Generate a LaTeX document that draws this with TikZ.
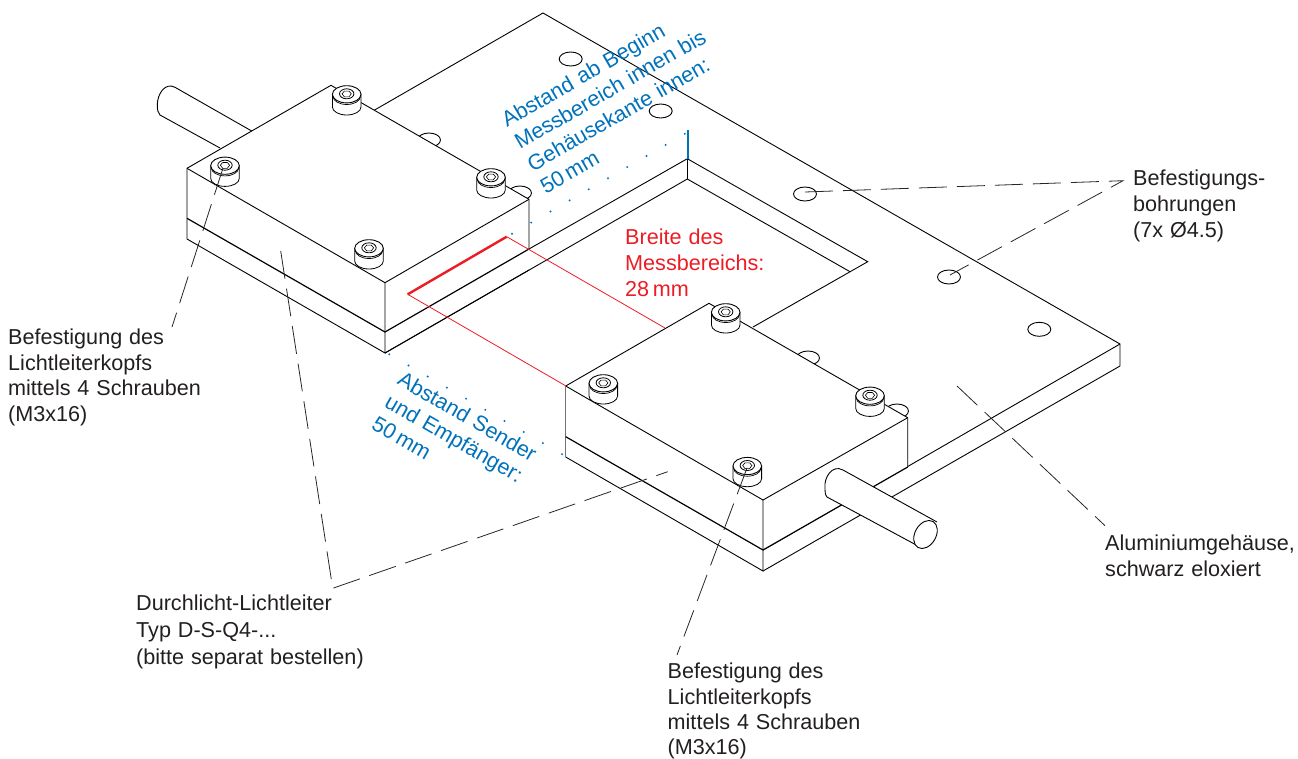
\documentclass[tikz,border=0pt]{standalone}
\usepackage{fontspec}
\setmainfont[WordSpace=1.15]{Liberation Sans}
\definecolor{mblue}{RGB}{0,114,188}
\definecolor{mred}{RGB}{237,28,36}
\definecolor{mtext}{RGB}{35,31,32}
\tikzset{
  edge/.style={line width=0.9pt,black,line join=miter},
  boldedge/.style={line width=1.2pt,black},
  leader/.style={line width=0.8pt,black!85,dash pattern=on 28pt off 10pt},
  label/.style={anchor=north west,inner sep=0pt,align=left,text=mtext,font=\fontsize{21.6}{25.8}\selectfont},
  hole/.style={edge,x radius=11.5,y radius=7},
  hexscrew/.pic={
    \draw[edge,line width=0.8pt,fill=white] (-14.3,0) -- (-14.3,12.7) arc[start angle=180,end angle=0,x radius=14.3,y radius=8] -- (14.3,0) -- cycle;
    \draw[edge,line width=0.9pt,fill=white] (0,0) ellipse[x radius=14.3,y radius=8.6];
    \draw[line width=0.7pt] (-13.6,2.2) arc[start angle=180,end angle=0,x radius=13.6,y radius=8];
    \draw[line width=0.8pt] (0,-0.5) ellipse[x radius=7.2,y radius=5];
    \draw[line width=0.6pt] (-4.6,-0.5) -- (-2.3,-3.2) -- (2.3,-3.2) -- (4.6,-0.5) -- (2.3,2.6) -- (-2.3,2.6) -- cycle;
  }
}
\begin{document}
\begin{tikzpicture}[x=1pt,y=-1pt]
\useasboundingbox (0,0) rectangle (1298,758);
% housing plate
\draw[edge] (300,153) -- (543,13) -- (1120,344) -- (1120,366);
\draw[edge] (1120,344) -- (763,550);
\draw[edge] (1120,366) -- (763,571);
\foreach \p in {(570.7,59),(660.7,111),(805,194),(949,277),(1039.3,329.3),(429,140),(520,193),(808,358),(897,411)}
  \draw[hole] \p ellipse[];
% pocket
\draw[edge] (529,249) -- (687.3,158.7) -- (867.7,261.7) -- (753,327);
\draw[edge] (385,353) -- (687.3,179) -- (850,271.7);
\draw[edge] (687.3,158.7) -- (687.3,179);
% left rod
\draw[fill=white,draw=none] (175,87.3) -- (251.7,131) -- (220,148) -- (160,115) -- (157,100) -- cycle;
\draw[edge] (251.7,131) -- (175,87.3) .. controls (165,82) and (157.3,94) .. (157.3,105) .. controls (157.3,110) and (158,113) .. (160,115) -- (220,148);
% left head
\fill[white] (187,168.3) -- (331,85.3) -- (529,199.3) -- (529,249) -- (385,332) -- (385,353) -- (187,239) -- cycle;
\draw[edge] (187,239) -- (187,168.3) -- (331,85.3) -- (529,199.3) -- (529,249);
\draw[edge] (187,168.3) -- (385,282.7) -- (529,199.3);
\draw[edge] (385,282.7) -- (385,353) -- (187,239);
\draw[boldedge] (187,218.3) -- (385,332) -- (529,249);
\draw[edge] (385,353) -- (529,270);
\foreach \p in {(346.7,94.3),(225,165.7),(491,177.3),(369,248.3)}
  \pic at \p {hexscrew};
% right head
\fill[white] (565.7,386) -- (709,303.3) -- (907.7,417.7) -- (907.7,467) -- (763,550) -- (763,571) -- (565.7,457) -- cycle;
\draw[edge] (565.7,386) -- (709,303.3) -- (907.7,417.7) -- (907.7,467);
\draw[edge] (565.7,386) -- (763,500) -- (907.7,417.7);
\draw[edge] (763,500) -- (763,571) -- (565.7,457);
\draw[line width=1.5pt,black!55] (565.7,386) -- (565.7,457);
\draw[boldedge] (565.7,436.7) -- (763,550) -- (907.7,467);
\foreach \p in {(725.7,312.3),(603.3,383.3),(870,395.7),(747.3,466)}
  \pic at \p {hexscrew};
% right rod
\fill[white] (843,470) -- (937,522) -- (920,547) -- (827,497) .. controls (822,490) and (830,465) .. (843,470);
\draw[edge] (937,522) -- (843,470) .. controls (832,464) and (824,478) .. (825,487) .. controls (825,491) and (825,495) .. (827,497) -- (920,547);
\draw[edge,fill=white] (925.5,534.5) ellipse[x radius=15,y radius=10.5,rotate=60];
% measuring range
\draw[line width=2.4pt,mred] (407.7,294.3) coordinate (r1) -- (506.7,236.7) coordinate (r2);
\coordinate (r3) at (566,386);
\coordinate (r4) at (665,328);
\draw[line width=0.8pt,mred] (r1) -- (r3);
\draw[line width=0.8pt,mred] (r2) -- (r4);
% blue dimension marks
\foreach \i in {0,...,9}
  \fill[mblue] ({389.3+19.2*\i},{354.3+11.1*\i}) circle[radius=1.1];
\foreach \i in {0,...,9}
  \fill[mblue] ({512+19.2*\i},{233.7-11.1*\i}) circle[radius=1.1];
\draw[line width=2pt,mblue] (687.5,130) -- (687.5,158.7);
% texts
\node[label] (tl) at (8,328.5) {Befestigung des\\Lichtleiterkopfs\\mittels 4 Schrauben\\(M3x16)};
\node[label,font=\fontsize{21.6}{25.2}\selectfont] (tb) at (667.5,663) {Befestigung des\\Lichtleiterkopfs\\mittels 4 Schrauben\\(M3x16)};
\node[label,font=\fontsize{21.6}{27}\selectfont] (td) at (136,595) {Durchlicht-Lichtleiter\\Typ D-S-Q4-...\\(bitte separat bestellen)};
\node[label] (ta) at (1105,534.5) {Aluminiumgehäuse,\\schwarz eloxiert};
\node[label] (tr) at (1133,170) {Befestigungs-\\bohrungen\\(7x Ø4.5)};
\node[label,text=mred] (tm) at (625,229) {Breite des\\Messbereichs:\\28\,mm};
\node[label,text=mblue,rotate=30,anchor=north west] (tu) at (499,114) {Abstand ab Beginn\\Messbereich innen bis\\Gehäusekante innen:\\50\,mm};
\node[label,text=mblue,rotate=-30,anchor=north west] (ts) at (404,370) {Abstand Sender\\und Empfänger:\\50\,mm};
% leaders
\coordinate (a1) at (223,168);
\coordinate (a2) at (172,327);
\coordinate (b1) at (280.7,251);
\coordinate (b2) at (332.7,588.3);
\coordinate (b3) at (667.7,471.7);
\coordinate (c1) at (747,468);
\coordinate (c2) at (677,655);
\coordinate (d1) at (957,386);
\coordinate (d2) at (1105,525.7);
\coordinate (e1) at (805,192);
\coordinate (e2) at (1123,180.7);
\coordinate (e3) at (950,275);
\draw[leader] (a1) -- (a2);
\draw[leader] (b1) -- (b2) -- (b3);
\draw[leader] (c1) -- (c2);
\draw[leader] (d1) -- (d2);
\draw[leader] (e1) -- (e2) -- (e3);
\end{tikzpicture}
\end{document}
